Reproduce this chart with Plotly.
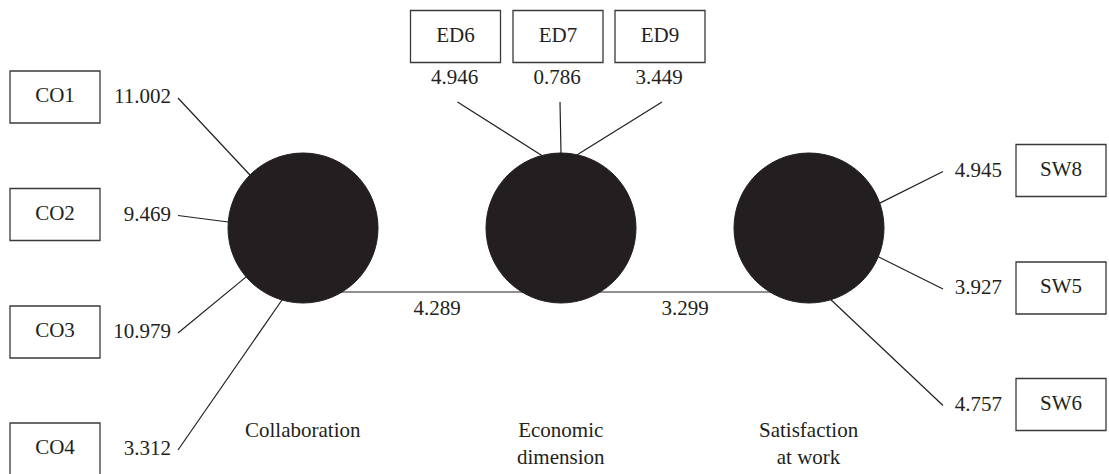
import math
import plotly.graph_objects as go

# ---------------- data ----------------
constructs = ["Collaboration", "Economic<br>dimension", "Satisfaction<br>at work"]
co_items = ["CO1", "CO2", "CO3", "CO4"]
co_loadings = [11.002, 9.469, 10.979, 3.312]
ed_items = ["ED6", "ED7", "ED9"]
ed_loadings = [4.946, 0.786, 3.449]
sw_items = ["SW8", "SW5", "SW6"]
sw_loadings = [4.945, 3.927, 4.757]
path_coefs = [4.289, 3.299]

# ---------------- layout (pixel-like diagram coordinates) ----------------
W, H = 1109, 474
INK = "#231f20"
FONT = "Liberation Serif"
FS = 21
construct_x = [303, 561, 809]
construct_y = 228
R = 75
path_y = 292

box_w, box_h = 90, 52
co_box_x = 55
co_box_y = [97, 214.5, 332, 449]
co_val_x = 168
co_line_x = 178
co_angles = [-135, -175.4, 139.3, 106.3]

ed_box_x = [455.5, 558, 660]
ed_box_y = 36.5
ed_val_y = 79
ed_line_y = 102
ed_angles = [-104.8, -90, -77.5]

sw_box_x = 1061
sw_box_y = [170.5, 288, 404.5]
sw_val_x = 999
sw_line_x = 943
sw_angles = [-19.4, 22.5, 73]

label_y = 416


def edge(ci, ang):
    a = math.radians(ang)
    return construct_x[ci] + R * math.cos(a), construct_y + R * math.sin(a)


fig = go.Figure()
shapes = []
LW = 1.2

# structural path line (under circles)
shapes.append(dict(type="line", x0=construct_x[0], x1=construct_x[2], y0=path_y, y1=path_y,
                   line=dict(color=INK, width=LW), layer="below"))

# measurement lines
for i, ang in enumerate(co_angles):
    ex, ey = edge(0, ang)
    shapes.append(dict(type="line", x0=co_line_x, y0=co_box_y[i] + 1, x1=ex, y1=ey,
                       line=dict(color=INK, width=LW), layer="below"))
for i, ang in enumerate(ed_angles):
    ex, ey = edge(1, ang)
    shapes.append(dict(type="line", x0=ed_box_x[i] + 2, y0=ed_line_y, x1=ex, y1=ey,
                       line=dict(color=INK, width=LW), layer="below"))
for i, ang in enumerate(sw_angles):
    ex, ey = edge(2, ang)
    shapes.append(dict(type="line", x0=sw_line_x, y0=sw_box_y[i] + 1, x1=ex, y1=ey,
                       line=dict(color=INK, width=LW), layer="below"))

# latent construct circles
for cx in construct_x:
    shapes.append(dict(type="circle", x0=cx - R, x1=cx + R, y0=construct_y - R, y1=construct_y + R,
                       fillcolor=INK, line=dict(color=INK, width=1), layer="below"))

# indicator boxes
box_line = dict(color="#3a3a3a", width=1.3)
for y in co_box_y:
    shapes.append(dict(type="rect", x0=co_box_x - box_w / 2, x1=co_box_x + box_w / 2,
                       y0=y - box_h / 2, y1=y + box_h / 2, line=box_line, layer="below"))
for x in ed_box_x:
    shapes.append(dict(type="rect", x0=x - box_w / 2, x1=x + box_w / 2,
                       y0=ed_box_y - box_h / 2, y1=ed_box_y + box_h / 2, line=box_line, layer="below"))
for y in sw_box_y:
    shapes.append(dict(type="rect", x0=sw_box_x - box_w / 2, x1=sw_box_x + box_w / 2,
                       y0=y - box_h / 2, y1=y + box_h / 2, line=box_line, layer="below"))

tf = dict(family=FONT, size=FS, color=INK)

# indicator names
fig.add_trace(go.Scatter(x=[co_box_x] * len(co_items), y=co_box_y, text=co_items, mode="text",
                         textposition="middle center", textfont=tf, hoverinfo="skip"))
fig.add_trace(go.Scatter(x=ed_box_x, y=[ed_box_y] * len(ed_items), text=ed_items, mode="text",
                         textposition="middle center", textfont=tf, hoverinfo="skip"))
fig.add_trace(go.Scatter(x=[sw_box_x] * len(sw_items), y=sw_box_y, text=sw_items, mode="text",
                         textposition="middle center", textfont=tf, hoverinfo="skip"))

# loadings
fig.add_trace(go.Scatter(x=[co_val_x + 3] * len(co_loadings), y=[y + 1 for y in co_box_y],
                         text=[f"{v:.3f}" for v in co_loadings], mode="text",
                         textposition="middle left", textfont=tf, hoverinfo="skip"))
fig.add_trace(go.Scatter(x=[x - 1 for x in ed_box_x], y=[ed_val_y] * len(ed_loadings),
                         text=[f"{v:.3f}" for v in ed_loadings], mode="text",
                         textposition="middle center", textfont=tf, hoverinfo="skip"))
fig.add_trace(go.Scatter(x=[sw_val_x + 3] * len(sw_loadings), y=[y + 1 for y in sw_box_y],
                         text=[f"{v:.3f}" for v in sw_loadings], mode="text",
                         textposition="middle left", textfont=tf, hoverinfo="skip"))

# path coefficients
fig.add_trace(go.Scatter(x=[(construct_x[0] + construct_x[1]) / 2 + 5, (construct_x[1] + construct_x[2]) / 2],
                         y=[path_y + 18] * 2, text=[f"{v:.3f}" for v in path_coefs], mode="text",
                         textposition="middle center", textfont=tf, hoverinfo="skip"))

# construct labels
for cx, name in zip(construct_x, constructs):
    fig.add_annotation(x=cx, y=label_y, text=name, showarrow=False, xanchor="center", yanchor="top",
                       font=tf, align="center")

fig.update_layout(
    width=W, height=H, shapes=shapes, showlegend=False,
    margin=dict(l=0, r=0, t=0, b=0),
    paper_bgcolor="white", plot_bgcolor="white",
    xaxis=dict(range=[0, W], visible=False, fixedrange=True),
    yaxis=dict(range=[H, 0], visible=False, fixedrange=True),
)
fig.write_html("out.html", config={"displayModeBar": False},
               post_script="document.body.style.margin='0';document.body.style.overflow='hidden';")
